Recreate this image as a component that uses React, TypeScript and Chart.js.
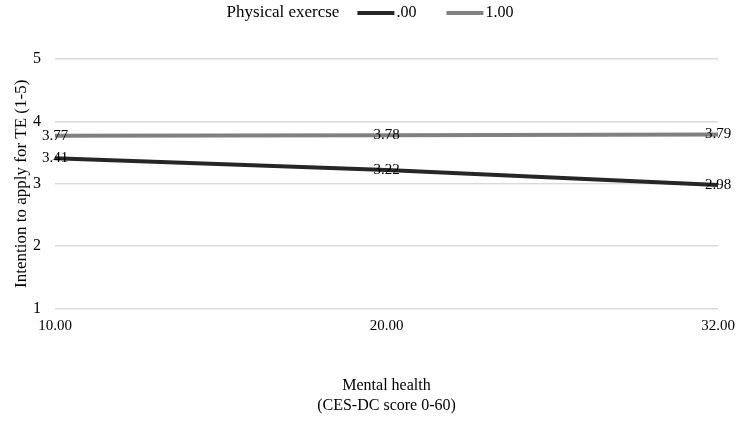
import React, { useEffect, useRef } from "react";
import { Chart, registerables } from "chart.js";

Chart.register(...registerables);

const categories = ["10.00", "20.00", "32.00"];
const seriesLabels = [".00", "1.00"];
const seriesNoExercise = [3.41, 3.22, 2.98];
const seriesExercise = [3.77, 3.78, 3.79];
const seriesColors = ["#262626", "#808080"];
const legendTitle = "Physical exercse";
const yTitle = "Intention to apply for TE (1-5)";
const xTitle = ["Mental health", "(CES-DC score 0-60)"];

const FONT = "'Liberation Serif', 'Times New Roman', serif";

const legendPlugin = {
  id: "inlineLegend",
  afterDraw(chart: any) {
    const ctx = chart.ctx;
    ctx.save();
    ctx.font = `17px ${FONT}`;
    ctx.textBaseline = "middle";
    ctx.fillStyle = "#000";
    const y = 13;
    const titleW = ctx.measureText(legendTitle).width;
    ctx.font = `16px ${FONT}`;
    const items = chart.data.datasets.map((d: any) => ({
      label: d.label,
      color: d.borderColor,
      w: ctx.measureText(d.label).width,
    }));
    const lineW = 37;
    const gapTitle = 18;
    const gapItem = 30;
    let total = titleW + gapTitle;
    items.forEach((it: any, i: number) => {
      total += lineW + 2 + it.w + (i < items.length - 1 ? gapItem : 0);
    });
    let x = chart.width / 2 - total / 2 - 2;
    ctx.textAlign = "left";
    ctx.font = `17px ${FONT}`;
    ctx.fillText(legendTitle, x, y);
    x += titleW + gapTitle;
    ctx.font = `16px ${FONT}`;
    items.forEach((it: any) => {
      ctx.strokeStyle = it.color;
      ctx.lineWidth = 4;
      ctx.beginPath();
      ctx.moveTo(x, y);
      ctx.lineTo(x + lineW, y);
      ctx.stroke();
      x += lineW + 2;
      ctx.fillStyle = "#000";
      ctx.fillText(it.label, x, y);
      x += it.w + gapItem;
    });
    ctx.restore();
  },
};

const dataLabelPlugin = {
  id: "pointLabels",
  afterDatasetsDraw(chart: any) {
    const ctx = chart.ctx;
    ctx.save();
    ctx.font = `15px ${FONT}`;
    ctx.fillStyle = "#000";
    ctx.textAlign = "center";
    ctx.textBaseline = "middle";
    chart.data.datasets.forEach((ds: any, di: number) => {
      const meta = chart.getDatasetMeta(di);
      meta.data.forEach((pt: any, i: number) => {
        ctx.fillText(Number(ds.data[i]).toFixed(2), pt.x, pt.y);
      });
    });
    ctx.restore();
  },
};

export default function App() {
  const ref = useRef<HTMLCanvasElement>(null);
  useEffect(() => {
    document.body.style.margin = "0";
    if (!ref.current) return;
    const chart = new Chart(ref.current, {
      type: "line",
      data: {
        labels: categories,
        datasets: [
          {
            label: seriesLabels[0],
            data: seriesNoExercise,
            borderColor: seriesColors[0],
            backgroundColor: seriesColors[0],
            borderWidth: 4,
            pointRadius: 0,
            tension: 0,
          },
          {
            label: seriesLabels[1],
            data: seriesExercise,
            borderColor: seriesColors[1],
            backgroundColor: seriesColors[1],
            borderWidth: 4,
            pointRadius: 0,
            tension: 0,
          },
        ],
      },
      options: {
        animation: false,
        responsive: false,
        maintainAspectRatio: false,
        layout: { padding: { top: 59, right: 26, bottom: 14, left: 11 } },
        plugins: {
          legend: { display: false },
          tooltip: { enabled: false },
        },
        scales: {
          x: {
            offset: false,
            grid: { display: false },
            border: { display: false },
            ticks: { color: "#000", font: { family: FONT, size: 15 }, padding: 0, maxRotation: 0 },
            title: {
              display: true,
              text: xTitle,
              color: "#000",
              font: { family: FONT, size: 16 },
              padding: { top: 42, bottom: 0 },
            },
          },
          y: {
            min: 1,
            max: 5,
            ticks: { stepSize: 1, color: "#000", font: { family: FONT, size: 16 }, padding: 14 },
            grid: { color: "#d9d9d9", lineWidth: 1.5, drawTicks: false },
            border: { display: false },
            title: {
              display: true,
              text: yTitle,
              color: "#000",
              font: { family: FONT, size: 17 },
              padding: { top: 0, bottom: 4 },
            },
            afterFit: (scale: any) => {
              scale.width = 44;
            },
          },
        },
      },
      plugins: [legendPlugin, dataLabelPlugin],
    });
    return () => chart.destroy();
  }, []);
  return (
    <div style={{ width: 744, height: 429 }}>
      <canvas ref={ref} width={744} height={429} style={{ display: "block" }} />
    </div>
  );
}
